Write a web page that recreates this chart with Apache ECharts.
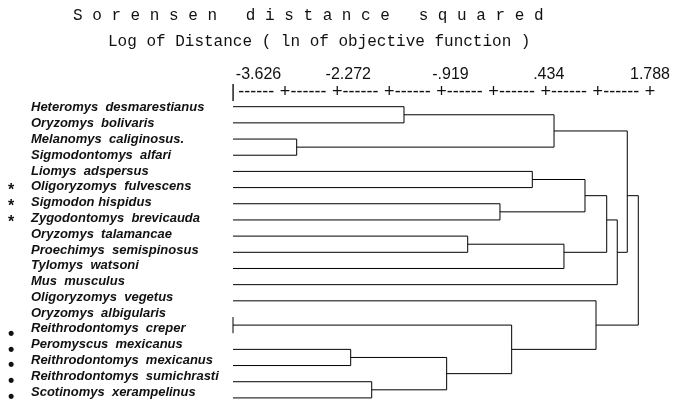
<!DOCTYPE html>
<html><head><meta charset="utf-8">
<script src="https://cdn.jsdelivr.net/npm/echarts@6/dist/echarts.min.js"></script>
<style>html,body{margin:0;padding:0;background:#fff}#c{width:697px;height:406px}</style>
</head><body><div id="c"></div>
<script>
const species = [
  'Heteromys  desmarestianus','Oryzomys  bolivaris','Melanomys  caliginosus.','Sigmodontomys  alfari',
  'Liomys  adspersus','Oligoryzomys  fulvescens','Sigmodon hispidus','Zygodontomys  brevicauda',
  'Oryzomys  talamancae','Proechimys  semispinosus','Tylomys  watsoni','Mus  musculus',
  'Oligoryzomys  vegetus','Oryzomys  albigularis','Reithrodontomys  creper','Peromyscus  mexicanus',
  'Reithrodontomys  mexicanus','Reithrodontomys  sumichrasti','Scotinomys  xerampelinus'
];
const markers = ['','','','','','*','*','*','','','','','','','•','•','•','•','•'];
const axisMin = -3.626, axisMax = 1.788;
const tickLabels = [-3.626, -2.272, -0.919, 0.434, 1.788];
// fusions: node 19+k joins mergeLeft[k] and mergeRight[k] at mergeHeight[k] (log distance), drawn at row mergeRow[k]
const mergeLeft   = [0, 2, 19, 4, 6, 22, 8, 25, 24, 27, 21, 13, 15, 17, 31, 30, 12, 29];
const mergeRight  = [1, 3, 20, 5, 7, 23, 9, 10, 26, 11, 28, 14, 16, 18, 32, 33, 34, 35];
const mergeHeight = [-1.406, -2.799, 0.542, 0.260, -0.160, 0.944, -0.579, 0.671, 1.226, 1.363, 1.493,
                     -3.626, -2.098, -1.825, -0.852, -0.008, 1.087, 1.636];
const mergeRow    = [0.5, 2.5, 1.5, 4.5, 6.5, 5.5, 8.5, 9.0, 7.0, 9.0, 5.5, 13.5, 15.5, 17.5, 16.5, 15.0, 13.5, 9.5];

const nodeX = species.map(() => axisMin), nodeY = species.map((s, i) => i);
const links = [];
mergeLeft.forEach((a, k) => {
  const b = mergeRight[k], h = mergeHeight[k];
  links.push({coords: [[nodeX[a], nodeY[a]], [h, nodeY[a]], [h, nodeY[b]], [nodeX[b], nodeY[b]]]});
  nodeX.push(h); nodeY.push(mergeRow[k]);
});

const half = (axisMax - axisMin) / 8;
const rulerVals = [];
for (let k = 0; k <= 8; k++) rulerVals.push(axisMin + k * half);
for (let k = 0; k < 8; k++) rulerVals.push(axisMin + (k + 0.447) * half);

const fmtNum = v => v.toFixed(3).replace(/^(-?)0\./, '$1.');
const tickShift = [51, 22, 18, 6, 0];
const numRich = {};
tickShift.forEach((p, i) => numRich['l' + i] = {fontFamily: 'Liberation Sans', fontSize: 16, color: '#111', padding: [0, 0, 0, p]});

const chart = echarts.init(document.getElementById('c'), null, {renderer: 'canvas'});
chart.setOption({
  animation: false,
  backgroundColor: '#fff',
  title: [
    {text: 'S o r e n s e n   d i s t a n c e   s q u a r e d', left: 73, top: 8, padding: 0,
     textStyle: {fontFamily: 'Liberation Mono', fontSize: 16, fontWeight: 'normal', color: '#111'}},
    {text: 'Log of Distance ( ln of objective function )', left: 108, top: 34, padding: 0,
     textStyle: {fontFamily: 'Liberation Mono', fontSize: 16, fontWeight: 'normal', color: '#111'}}
  ],
  grid: [
    {left: 233, right: 47, top: 98.6, bottom: 0},
    {left: 233, right: 47, top: 100, bottom: 4}
  ],
  xAxis: [
    {gridIndex: 0, type: 'value', position: 'top', min: axisMin, max: axisMax,
     axisLine: {show: false}, axisTick: {show: false}, splitLine: {show: false},
     axisLabel: {customValues: tickLabels, margin: 16, hideOverlap: false,
       formatter: v => { const i = tickLabels.findIndex(t => Math.abs(t - v) < 1e-6); return '{l' + i + '|' + fmtNum(v) + '}'; },
       rich: numRich}},
    {gridIndex: 0, type: 'value', position: 'top', min: axisMin, max: axisMax,
     axisLine: {show: false}, axisTick: {show: false}, splitLine: {show: false},
     axisLabel: {customValues: rulerVals, margin: -2, hideOverlap: false,
       fontFamily: 'Liberation Sans', fontSize: 18, color: '#111', lineHeight: 18,
       formatter: v => { const r = (v - axisMin) / half; if (Math.abs(r - Math.round(r)) < 0.01) return Math.round(r) === 0 ? '|' : '+'; return '------'; }}},
    {gridIndex: 1, type: 'value', show: false, min: 0, max: 1}
  ],
  yAxis: [
    {gridIndex: 0, type: 'value', min: -0.5, max: 18.5, inverse: true, show: false},
    {gridIndex: 1, type: 'category', data: species, inverse: true,
     axisLine: {show: false}, axisTick: {show: false}, splitLine: {show: false},
     axisLabel: {interval: 0, align: 'left', margin: 225,
       formatter: (v, i) => (markers[i] === '*' ? '{a|*}' : markers[i] === '•' ? '{b|•}' : '{e| }') + '{n|' + v + '}',
       rich: {
         a: {width: 23, fontFamily: 'Liberation Sans', fontSize: 16, fontWeight: 'bold', color: '#111', padding: [8, 0, 0, 0]},
         b: {width: 23, fontFamily: 'Liberation Sans', fontSize: 18, fontWeight: 'bold', color: '#111', padding: [10, 0, 0, 0]},
         e: {width: 23, fontSize: 13},
         n: {fontFamily: 'Liberation Sans', fontSize: 13, fontWeight: 'bold', fontStyle: 'italic', color: '#111'}
       }}}
  ],
  series: [{
    type: 'lines', coordinateSystem: 'cartesian2d', xAxisIndex: 0, yAxisIndex: 0,
    polyline: true, silent: true,
    lineStyle: {color: '#000', width: 1, opacity: 1},
    data: links
  }]
});
</script></body></html>
